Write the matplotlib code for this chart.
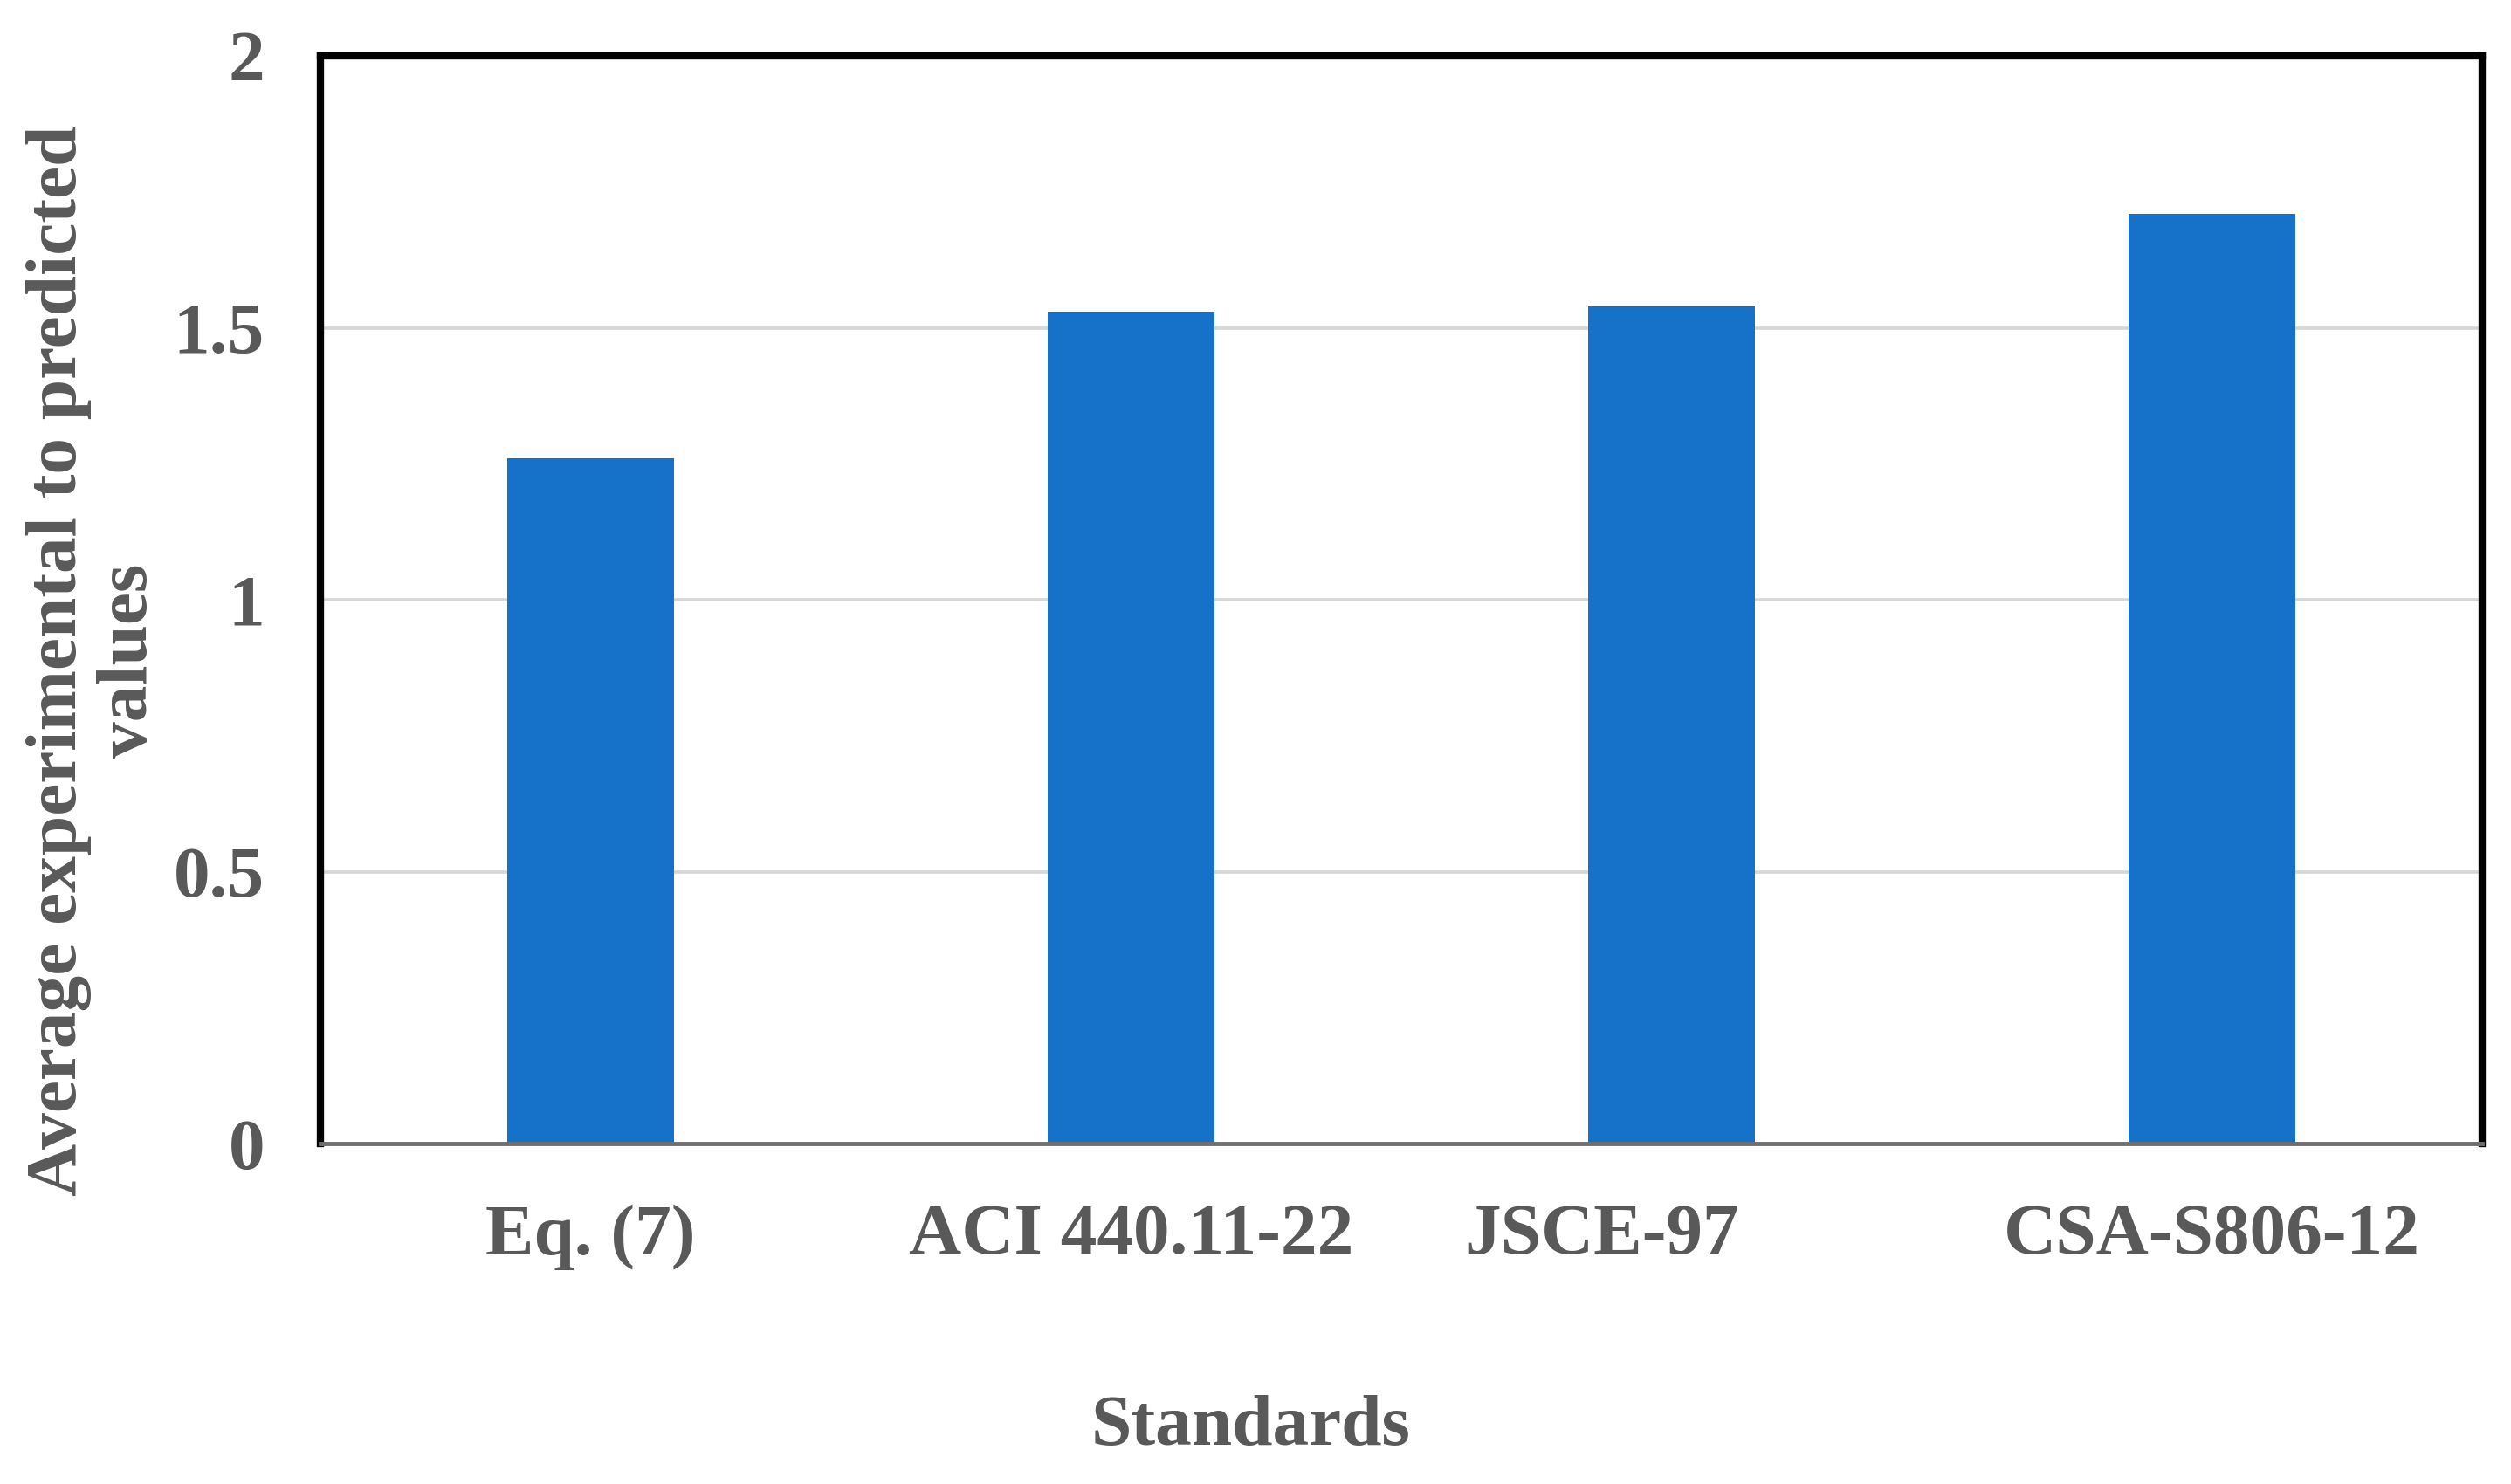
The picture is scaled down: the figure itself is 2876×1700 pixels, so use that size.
import matplotlib
matplotlib.use("Agg")
import matplotlib.pyplot as plt
import matplotlib.transforms as mtransforms
import numpy as np

# ===================================== data =====================================

standards = ["Eq. (7)", "ACI 440.11-22", "JSCE-97", "CSA-S806-12"]
avg_ratio = [1.26, 1.53, 1.54, 1.71]
y_ticks = [0, 0.5, 1, 1.5, 2]
y_tick_labels = ["0", "0.5", "1", "1.5", "2"]

# ====================================================================================

plt.rcParams["font.family"] = ["Liberation Serif", "DejaVu Serif"]
plt.rcParams["font.weight"] = "bold"

text_color = "#595959"
bar_color = "#1672c9"
fs = 60

fig = plt.figure(figsize=(28.76, 17.0), dpi=100)
ax = fig.add_axes([367 / 2876, 1 - 1310 / 1700, (2843 - 367) / 2876, (1310 - 64) / 1700])

x = np.arange(len(standards))
ax.bar(x, avg_ratio, width=0.31, color=bar_color, zorder=3)

ax.set_xlim(-0.5, len(standards) - 0.5)
ax.set_ylim(0, 2)
ax.set_yticks(y_ticks)
ax.set_yticklabels(y_tick_labels)
ax.set_xticks(x)
ax.set_xticklabels(standards)

ax.yaxis.grid(True, color="#d6d6d6", linewidth=2.6, zorder=0)
ax.set_axisbelow(True)

ax.tick_params(axis="both", length=0, labelsize=fs, labelcolor=text_color)
ax.tick_params(axis="y", pad=46)
ax.tick_params(axis="x", pad=50)

for side in ["top", "right", "left"]:
    ax.spines[side].set_color("black")
    ax.spines[side].set_linewidth(6)
ax.spines["bottom"].set_color("#6f6f6f")
ax.spines["bottom"].set_linewidth(3.5)
ax.spines["bottom"].set_zorder(4)

# JSCE-97 label sits a little left of its bar in the original
lab = ax.get_xticklabels()[2]
lab.set_transform(lab.get_transform() + mtransforms.ScaledTranslation(-0.8, 0, fig.dpi_scale_trans))

fig.text(1432 / 2876, 1 - 1636 / 1700, "Standards", ha="center", va="center",
         fontsize=fs, color=text_color, fontweight="bold")
fig.text(108 / 2876, 1 - 757 / 1700, "Average experimental to predicted\nvalues",
         ha="center", va="center", rotation=90, fontsize=fs, color=text_color,
         fontweight="bold", linespacing=1.12)

fig.savefig("out.png", dpi=100, facecolor="white")
